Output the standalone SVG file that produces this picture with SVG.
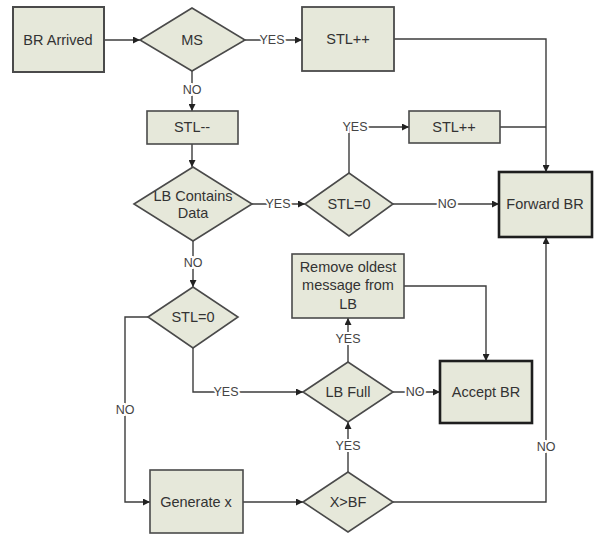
<svg xmlns="http://www.w3.org/2000/svg" width="596" height="535" viewBox="0 0 596 535">
<style>
.n{fill:#e6e8da;stroke:#4a4a4a;stroke-width:1.6}
.k{fill:#e6e8da;stroke:#1e1e1e;stroke-width:2.6}
.t{font-family:"Liberation Sans",Arial,sans-serif;font-size:14.5px;fill:#333;text-anchor:middle;dominant-baseline:central}
.c{fill:none;stroke:#3c3c3c;stroke-width:1.4}
.l{font-family:"Liberation Sans",Arial,sans-serif;font-size:12.5px;fill:#444;text-anchor:middle;dominant-baseline:central;stroke:#fff;stroke-width:4;paint-order:stroke}
</style>
<defs>
<marker id="a" viewBox="0 0 10 10" refX="10" refY="5" markerWidth="7" markerHeight="7" markerUnits="userSpaceOnUse" orient="auto">
<path d="M0,0 L10,5 L0,10 z" fill="#222"/>
</marker>
</defs>
<rect width="596" height="535" fill="#fff"/>
<g id="connectors">
<path class="c" d="M104,40 H140" marker-end="url(#a)"/>
<path class="c" d="M245,40 H302" marker-end="url(#a)"/>
<path class="c" d="M192,71 V111" marker-end="url(#a)"/>
<path class="c" d="M192,144 V167" marker-end="url(#a)"/>
<path class="c" d="M252,204 H305" marker-end="url(#a)"/>
<path class="c" d="M349,173 V127 H409" marker-end="url(#a)"/>
<path class="c" d="M394,39 H546 V172" marker-end="url(#a)"/>
<path class="c" d="M500,127 H546"/>
<path class="c" d="M393,204 H499" marker-end="url(#a)"/>
<path class="c" d="M193,241 V287" marker-end="url(#a)"/>
<path class="c" d="M148,317 H125 V502 H150" marker-end="url(#a)"/>
<path class="c" d="M193,348 V392 H303" marker-end="url(#a)"/>
<path class="c" d="M348,362 V318" marker-end="url(#a)"/>
<path class="c" d="M404,286 H486 V361" marker-end="url(#a)"/>
<path class="c" d="M393,392 H440" marker-end="url(#a)"/>
<path class="c" d="M243,502 H303" marker-end="url(#a)"/>
<path class="c" d="M348,472 V422" marker-end="url(#a)"/>
<path class="c" d="M393,502 H546 V237" marker-end="url(#a)"/>
<text class="l" x="272" y="40">YES</text>
<text class="l" x="192" y="90">NO</text>
<text class="l" x="278" y="204">YES</text>
<text class="l" x="355" y="127">YES</text>
<text class="l" x="447" y="204">NO</text>
<text class="l" x="193" y="263">NO</text>
<text class="l" x="125" y="410">NO</text>
<text class="l" x="226" y="392">YES</text>
<text class="l" x="348" y="339">YES</text>
<text class="l" x="415" y="392">NO</text>
<text class="l" x="348" y="446">YES</text>
<text class="l" x="546" y="447">NO</text>
</g>
<g id="br-arrived"><rect class="n" x="13" y="7" width="91" height="65" style="stroke-width:2"/><text class="t" x="58" y="40">BR Arrived</text></g>
<g id="ms"><polygon class="n" points="140,40 192,8 245,40 192,71"/><text class="t" x="192" y="40">MS</text></g>
<g id="stl-inc-1"><rect class="n" x="302" y="7" width="92" height="64" style="stroke-width:1.8"/><text class="t" x="348" y="39">STL++</text></g>
<g id="stl-dec"><rect class="n" x="147" y="111" width="91" height="33"/><text class="t" x="192" y="127">STL--</text></g>
<g id="lb-contains"><polygon class="n" points="134,204 193,167 252,204 193,241"/><text class="t" x="193" y="196">LB Contains</text><text class="t" x="193" y="213">Data</text></g>
<g id="stl-zero-1"><polygon class="n" points="305,204 349,173 393,204 349,236"/><text class="t" x="349" y="204">STL=0</text></g>
<g id="stl-inc-2"><rect class="n" x="409" y="111" width="91" height="32"/><text class="t" x="454" y="127">STL++</text></g>
<g id="forward-br"><rect class="k" x="499" y="172" width="93" height="65"/><text class="t" x="545" y="204">Forward BR</text></g>
<g id="stl-zero-2"><polygon class="n" points="148,317 193,287 238,317 193,348"/><text class="t" x="193" y="317">STL=0</text></g>
<g id="remove-oldest"><rect class="n" x="292" y="254" width="112" height="64"/><text class="t" x="348" y="267">Remove oldest</text><text class="t" x="348" y="285">message from</text><text class="t" x="348" y="304">LB</text></g>
<g id="lb-full"><polygon class="n" points="303,392 348,362 393,392 348,422"/><text class="t" x="348" y="392">LB Full</text></g>
<g id="accept-br"><rect class="k" x="440" y="361" width="92" height="62"/><text class="t" x="486" y="392">Accept BR</text></g>
<g id="generate-x"><rect class="n" x="150" y="470" width="93" height="63"/><text class="t" x="196" y="502">Generate x</text></g>
<g id="x-bf"><polygon class="n" points="303,502 348,472 393,502 348,532"/><text class="t" x="348" y="502">X&gt;BF</text></g>
</svg>
